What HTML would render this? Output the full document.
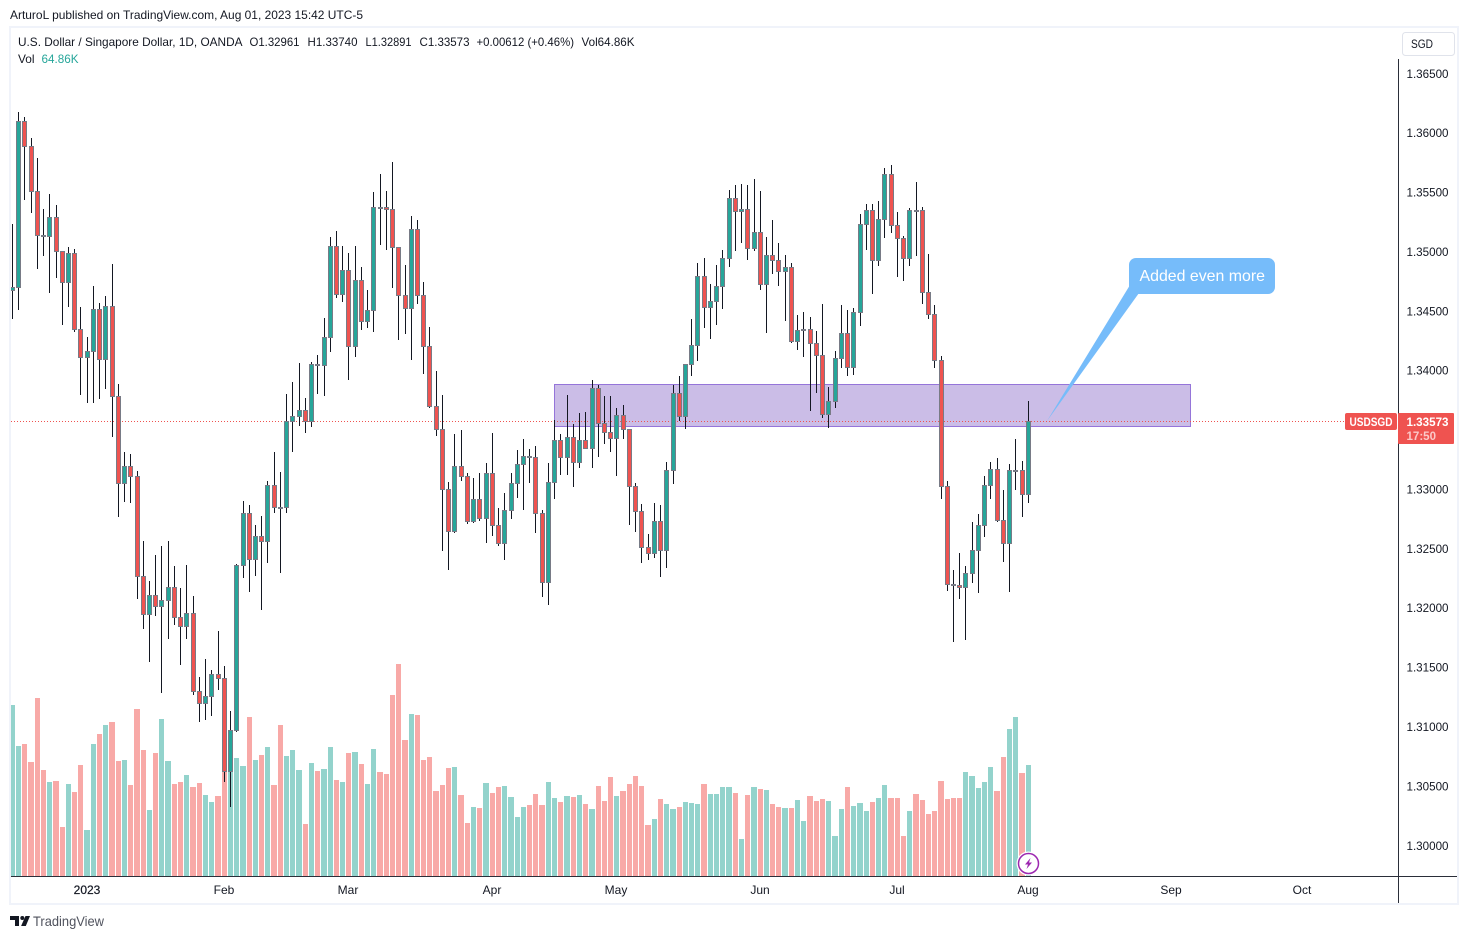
<!DOCTYPE html>
<html lang="en">
<head>
<meta charset="utf-8">
<title>USDSGD daily chart</title>
<style>
html,body{margin:0;padding:0;background:#fff;width:1468px;height:939px;overflow:hidden}
svg{display:block;font-family:"Liberation Sans",sans-serif}
</style>
</head>
<body>
<svg id="chart" xmlns="http://www.w3.org/2000/svg" width="1468" height="939" viewBox="0 0 1468 939">
  <defs><clipPath id="plot-clip"><rect x="11" y="28" width="1387" height="848"/></clipPath></defs>
  <rect x="10" y="27" width="1448" height="877" fill="#fff" stroke="#f0f3fa" stroke-width="2"/>
  <text x="10" y="19" font-size="12" fill="#131722" textLength="353" lengthAdjust="spacingAndGlyphs">ArturoL published on TradingView.com, Aug 01, 2023 15:42 UTC-5</text>

  <g id="volume-layer" clip-path="url(#plot-clip)"></g>
  <rect x="554.5" y="384.5" width="636" height="42" fill="#cbbde7" stroke="#9575d9" stroke-width="1"/>
  <line x1="11" y1="421.5" x2="1345" y2="421.5" stroke="#ef5350" stroke-width="1" stroke-dasharray="1 2"/>
  <g id="candle-layer" clip-path="url(#plot-clip)"></g>

  <g font-size="12" fill="#131722">
    <text x="18" y="46" textLength="224.5" lengthAdjust="spacingAndGlyphs">U.S. Dollar / Singapore Dollar, 1D, OANDA</text>
    <text x="249.5" y="46" textLength="50" lengthAdjust="spacingAndGlyphs">O1.32961</text>
    <text x="307.5" y="46" textLength="50" lengthAdjust="spacingAndGlyphs">H1.33740</text>
    <text x="365.5" y="46" textLength="46" lengthAdjust="spacingAndGlyphs">L1.32891</text>
    <text x="419.5" y="46" textLength="50" lengthAdjust="spacingAndGlyphs">C1.33573</text>
    <text x="476.5" y="46" textLength="97.5" lengthAdjust="spacingAndGlyphs">+0.00612 (+0.46%)</text>
    <text x="581.5" y="46" textLength="53" lengthAdjust="spacingAndGlyphs">Vol64.86K</text>
    <text x="18" y="63" textLength="16.5" lengthAdjust="spacingAndGlyphs">Vol</text>
    <text x="41.5" y="63" fill="#26a69a" textLength="37" lengthAdjust="spacingAndGlyphs">64.86K</text>
  </g>

  <line x1="11" y1="876.5" x2="1457" y2="876.5" stroke="#2a2e39" stroke-width="1"/>
  <line x1="1398.5" y1="59" x2="1398.5" y2="903" stroke="#2a2e39" stroke-width="1"/>
  <g id="price-axis"></g>
  <g id="time-axis"></g>

  <g>
    <rect x="1402.5" y="32.5" width="52" height="23" rx="3" fill="#fff" stroke="#e0e3eb"/>
    <text x="1411" y="48" font-size="12" fill="#131722" textLength="22" lengthAdjust="spacingAndGlyphs">SGD</text>
  </g>

  <g>
    <polygon points="1130,285 1047,421 1139,293" fill="#76bcfa"/>
    <rect x="1129" y="258" width="146" height="36" rx="7" fill="#76bcfa"/>
    <text x="1139.5" y="281" font-size="16" fill="#fff" textLength="125.5" lengthAdjust="spacingAndGlyphs">Added even more</text>
  </g>

  <g>
    <rect x="1345" y="413" width="52" height="17" rx="2" fill="#ef5350"/>
    <text x="1349.5" y="426" font-size="12" font-weight="bold" fill="#fff" textLength="43" lengthAdjust="spacingAndGlyphs">USDSGD</text>
  </g>
  <g>
    <rect x="1398" y="413" width="56" height="31" rx="1" fill="#ef5350"/>
    <text x="1406.5" y="426" font-size="12" font-weight="bold" fill="#fff" textLength="42" lengthAdjust="spacingAndGlyphs">1.33573</text>
    <text x="1406.5" y="440" font-size="12" font-weight="bold" fill="#fbc9c8" textLength="29.5" lengthAdjust="spacingAndGlyphs">17:50</text>
  </g>

  <g>
    <circle cx="1028.5" cy="863.5" r="12" fill="#fff"/>
    <circle cx="1028.5" cy="863.5" r="10" fill="#fff" stroke="#9c27b0" stroke-width="1.5"/>
    <polygon points="1030.5,858 1025,864.5 1028,864.5 1026.5,869 1032,862.5 1029,862.5" fill="#9c27b0"/>
  </g>

  <g>
    <path d="M10 916h9v10h-4v-6h-5zM25.5 916h4.5l-4.2 10h-4.7z" fill="#131722"/>
    <circle cx="22.3" cy="918" r="2" fill="#131722"/>
    <text x="33" y="926" font-size="14" fill="#50535e" textLength="71" lengthAdjust="spacingAndGlyphs">TradingView</text>
  </g>
</svg>
<script>
const opens=[1.34676,1.34701,1.36099,1.35889,1.35510,1.35139,1.35131,1.35291,1.35005,1.34744,1.34988,1.34348,1.34112,1.34163,1.34516,1.34095,1.34541,1.33784,1.33051,1.33194,1.33110,1.32268,1.31948,1.32108,1.32015,1.32066,1.32175,1.31923,1.31847,1.31957,1.31300,1.31199,1.31258,1.31443,1.31409,1.30626,1.30971,1.32361,1.32799,1.32411,1.32605,1.32563,1.33034,1.32849,1.32849,1.33573,1.33615,1.33666,1.33573,1.34053,1.34045,1.34280,1.35046,1.34642,1.34845,1.34205,1.34760,1.34415,1.34508,1.35375,1.35375,1.35358,1.35038,1.34634,1.34525,1.35190,1.34634,1.34205,1.33699,1.33506,1.33001,1.32647,1.33194,1.33110,1.32731,1.32916,1.32756,1.33136,1.32697,1.32546,1.32824,1.33051,1.33211,1.33278,1.33270,1.32799,1.32218,1.33060,1.33413,1.33270,1.33439,1.33228,1.33413,1.33346,1.33851,1.33556,1.33481,1.33431,1.33624,1.33506,1.33026,1.32815,1.32512,1.32462,1.32731,1.32487,1.33161,1.33809,1.33615,1.34053,1.34213,1.34794,1.34533,1.34584,1.34710,1.34946,1.35451,1.35341,1.35358,1.35030,1.35165,1.34727,1.34971,1.34929,1.34837,1.34870,1.34247,1.34340,1.34348,1.34230,1.34129,1.33633,1.33742,1.34104,1.34314,1.34028,1.34491,1.35232,1.35350,1.34929,1.35274,1.35653,1.35224,1.35114,1.34946,1.35350,1.35350,1.34659,1.34474,1.34087,1.33026,1.32201,1.32192,1.32175,1.32293,1.32487,1.32697,1.33034,1.33169,1.32740,1.32546,1.33153,1.33161,1.32961];
const highs=[1.35232,1.36175,1.36133,1.35956,1.35788,1.35358,1.35484,1.35392,1.35005,1.35038,1.35021,1.34533,1.34280,1.34710,1.34567,1.34626,1.34895,1.33885,1.33312,1.33295,1.33152,1.32563,1.32226,1.32445,1.32521,1.32563,1.32352,1.32167,1.32361,1.32100,1.31418,1.31569,1.31477,1.31805,1.31510,1.31131,1.32369,1.32900,1.32866,1.32697,1.32773,1.33068,1.33312,1.33144,1.33800,1.33902,1.34062,1.33767,1.34070,1.34129,1.34440,1.35122,1.35173,1.35046,1.34988,1.35046,1.34870,1.34676,1.35501,1.35653,1.35510,1.35754,1.35038,1.34887,1.35299,1.35265,1.34744,1.34365,1.33994,1.33792,1.33060,1.33464,1.33497,1.33136,1.33093,1.33136,1.33220,1.33472,1.32841,1.32967,1.33136,1.33329,1.33422,1.33337,1.33363,1.32824,1.33220,1.33582,1.33464,1.33792,1.33548,1.33641,1.33649,1.33918,1.33876,1.33784,1.33784,1.33682,1.33708,1.33506,1.33051,1.32874,1.32622,1.32883,1.32866,1.33228,1.33876,1.33952,1.34053,1.34432,1.34904,1.34946,1.34727,1.34887,1.35013,1.35518,1.35560,1.35569,1.35560,1.35610,1.35510,1.35122,1.35265,1.35072,1.34971,1.34904,1.34466,1.34491,1.34449,1.34331,1.34558,1.33860,1.34163,1.34550,1.34508,1.34525,1.35316,1.35400,1.35400,1.35426,1.35704,1.35729,1.35333,1.35131,1.35367,1.35586,1.35375,1.34979,1.34550,1.34120,1.33068,1.32319,1.32462,1.32352,1.32723,1.32790,1.33110,1.33228,1.33262,1.32992,1.33211,1.33422,1.33237,1.33740];
const lows=[1.34440,1.34516,1.35442,1.35333,1.34861,1.34971,1.34659,1.34786,1.34390,1.34541,1.34331,1.33800,1.33733,1.33733,1.33767,1.33851,1.33447,1.32773,1.32900,1.32891,1.32083,1.31830,1.31552,1.31940,1.31291,1.31746,1.31864,1.31527,1.31746,1.31274,1.31047,1.31064,1.31098,1.31317,1.30542,1.30331,1.30963,1.32260,1.32142,1.32276,1.31990,1.32386,1.32807,1.32302,1.32807,1.33321,1.33540,1.33481,1.33531,1.33809,1.33792,1.34163,1.34617,1.34584,1.33927,1.34120,1.34348,1.34365,1.34331,1.35064,1.35021,1.34701,1.34264,1.34314,1.34095,1.34567,1.33977,1.33691,1.33456,1.32487,1.32327,1.32639,1.33076,1.32714,1.32723,1.32740,1.32554,1.32613,1.32529,1.32411,1.32756,1.32933,1.32832,1.33060,1.32639,1.32100,1.32032,1.32925,1.33127,1.33127,1.33026,1.33186,1.33346,1.33186,1.33278,1.33388,1.33321,1.33119,1.33431,1.32706,1.32647,1.32386,1.32411,1.32428,1.32268,1.32344,1.33051,1.33582,1.33514,1.33960,1.34087,1.34365,1.34272,1.34390,1.34525,1.34879,1.35013,1.35080,1.34937,1.35013,1.34684,1.34323,1.34819,1.34718,1.34424,1.34239,1.34180,1.34120,1.33666,1.33817,1.33607,1.33523,1.33691,1.34028,1.33960,1.33969,1.34382,1.35021,1.34651,1.34887,1.35122,1.35165,1.34794,1.34760,1.34887,1.34971,1.34567,1.34440,1.34028,1.32925,1.32150,1.31721,1.32083,1.31737,1.32218,1.32133,1.32605,1.32925,1.32731,1.32394,1.32142,1.33001,1.32773,1.32891];
const closes=[1.34701,1.36099,1.35889,1.35510,1.35139,1.35131,1.35291,1.35005,1.34744,1.34988,1.34348,1.34112,1.34163,1.34516,1.34095,1.34541,1.33784,1.33051,1.33194,1.33110,1.32268,1.31948,1.32108,1.32015,1.32066,1.32175,1.31923,1.31847,1.31957,1.31300,1.31199,1.31258,1.31443,1.31409,1.30626,1.30971,1.32361,1.32799,1.32411,1.32605,1.32563,1.33034,1.32849,1.32841,1.33573,1.33615,1.33666,1.33573,1.34053,1.34045,1.34280,1.35046,1.34642,1.34845,1.34205,1.34760,1.34415,1.34508,1.35375,1.35367,1.35358,1.35038,1.34634,1.34525,1.35190,1.34634,1.34205,1.33699,1.33506,1.33001,1.32647,1.33194,1.33110,1.32731,1.32916,1.32756,1.33136,1.32697,1.32546,1.32824,1.33051,1.33211,1.33278,1.33270,1.32799,1.32218,1.33060,1.33413,1.33270,1.33439,1.33228,1.33413,1.33346,1.33851,1.33556,1.33481,1.33431,1.33624,1.33506,1.33026,1.32815,1.32512,1.32462,1.32731,1.32487,1.33161,1.33809,1.33615,1.34053,1.34213,1.34794,1.34533,1.34584,1.34710,1.34946,1.35451,1.35341,1.35358,1.35030,1.35165,1.34727,1.34971,1.34929,1.34837,1.34870,1.34247,1.34340,1.34348,1.34230,1.34129,1.33633,1.33742,1.34104,1.34314,1.34028,1.34491,1.35232,1.35350,1.34929,1.35274,1.35653,1.35224,1.35114,1.34946,1.35350,1.35342,1.34659,1.34474,1.34087,1.33026,1.32201,1.32192,1.32175,1.32293,1.32487,1.32697,1.33034,1.33169,1.32740,1.32546,1.33161,1.33161,1.32958,1.33573];
const volumesK=[99.9,76.0,77.1,66.6,104.0,61.9,54.9,55.5,28.6,53.8,49.1,64.9,26.9,77.1,83.0,88.2,90.0,67.2,67.8,53.2,97.6,73.6,38.6,71.9,91.8,67.2,53.8,54.9,59.0,52.0,54.3,47.3,43.2,46.8,61.9,64.3,69.0,64.3,92.9,67.8,70.7,75.4,53.2,88.2,70.1,73.6,61.9,30.4,66.0,61.4,62.5,75.4,56.1,54.9,71.9,72.5,65.5,53.8,74.2,60.8,59.6,105.8,123.9,79.5,94.7,94.1,67.8,69.5,49.7,53.2,63.1,63.7,47.3,31.0,40.3,39.7,54.3,48.5,52.0,52.6,46.2,34.5,40.3,41.5,47.9,41.5,54.9,45.6,43.2,46.8,46.2,47.3,42.1,39.2,52.6,43.8,57.9,46.8,49.7,53.8,58.4,52.6,29.8,33.3,45.0,42.1,39.2,40.3,43.2,42.7,42.1,53.8,47.9,47.9,52.0,52.0,48.5,21.6,47.3,52.0,50.8,50.3,42.1,40.3,39.7,39.7,44.4,32.1,46.8,43.8,45.0,43.8,23.4,39.2,52.0,40.9,42.7,38.0,43.2,45.6,53.2,45.6,45.6,23.4,38.0,47.9,44.4,36.2,38.0,55.5,45.0,45.6,45.6,60.8,58.4,51.4,54.9,63.7,49.7,69.5,85.9,92.9,60.2,64.86];
const priceTicks=["1.36500","1.36000","1.35500","1.35000","1.34500","1.34000","1.33000","1.32500","1.32000","1.31500","1.31000","1.30500","1.30000"];
const timeTickLabels=["2023","Feb","Mar","Apr","May","Jun","Jul","Aug","Sep","Oct"];
const timeTickBars=[12,34,54,77,97,120,142,163,186,207];

const SVGNS='http://www.w3.org/2000/svg';
const UP='#26a69a',DOWN='#ef5350',UPV='#93d3cc',DOWNV='#f8a9a7',EDGE='#787b86',WICK='#131722';
const xPx=i=>Math.floor(12.4+i*6.2325);
const yPrice=p=>421.5-(p-1.33573)*11877;
const yVol=v=>876-v/0.5844;
const volumeLayer=document.getElementById('volume-layer');
const candleLayer=document.getElementById('candle-layer');
const priceAxis=document.getElementById('price-axis');
const timeAxis=document.getElementById('time-axis');

function shape(tag,parent,props){
  const el=document.createElementNS(SVGNS,tag);
  for(const k in props) el.setAttribute(k,props[k]);
  parent.appendChild(el);
  return el;
}

opens.forEach((o,i)=>{
  const c=closes[i],up=c>=o,px=xPx(i),left=xPx(i-1)+4;
  const top=Math.round(yVol(volumesK[i]));
  const bar=shape('rect',volumeLayer,{x:left,y:top,width:px+3-left,height:876-top,fill:up?UPV:DOWNV});
  
  
});

opens.forEach((o,i)=>{
  const c=closes[i],up=c>=o,px=xPx(i);
  const hiY=Math.floor(yPrice(highs[i])),loY=Math.floor(yPrice(lows[i]));
  const t=Math.floor(yPrice(Math.max(o,c))),b=Math.floor(yPrice(Math.min(o,c)));
  const wick=shape('rect',candleLayer,{x:px,y:hiY,width:1,height:Math.max(loY-hiY+1,1),fill:WICK});
  
  
  const body=shape('rect',candleLayer,{x:px-1.5,y:t+0.5,width:4,height:Math.max(b-t,1),fill:up?UP:DOWN,stroke:EDGE,'stroke-width':1});
  
  
});

priceTicks.forEach(label=>{
  const t=shape('text',priceAxis,{x:1406.5,y:yPrice(parseFloat(label))+3.9,'font-size':12,fill:'#131722',textLength:42,lengthAdjust:'spacingAndGlyphs'});
  
  
  t.textContent=label;
});

timeTickLabels.forEach((label,i)=>{
  const t=shape('text',timeAxis,{x:xPx(timeTickBars[i]),y:894,'font-size':12,'text-anchor':'middle',fill:'#131722',stroke:label==='2023'?'#131722':'none','stroke-width':0.2});
  
  
  t.textContent=label;
});
</script>
</body>
</html>
